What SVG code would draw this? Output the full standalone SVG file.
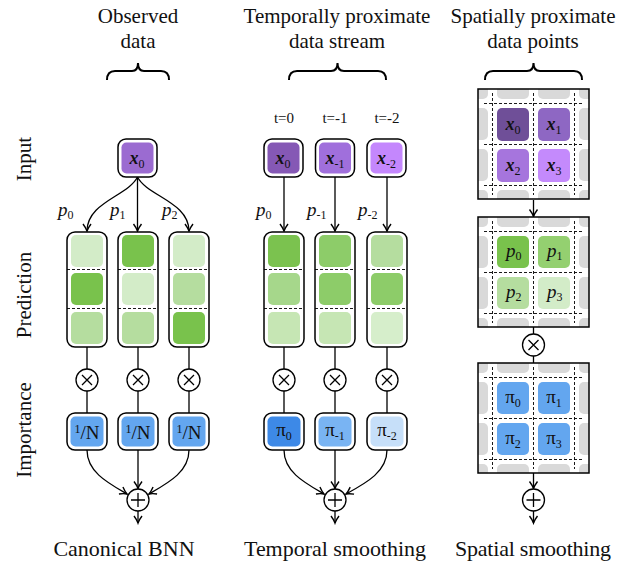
<svg xmlns="http://www.w3.org/2000/svg" width="624" height="567" viewBox="0 0 624 567">
<style>
text{font-family:"Liberation Serif","DejaVu Serif",serif}
.t{font-size:21px;fill:#111}
.tf{font-size:22px;fill:#111;text-anchor:middle}
.tl{font-size:15px;fill:#111;text-anchor:middle}
.mx{font-size:18px;font-style:italic;font-weight:bold;fill:#111;text-anchor:middle}
.mi{font-size:19px;font-style:italic;fill:#111}
.mp{font-size:19px;fill:#111;text-anchor:middle}
.sb{font-size:12px;font-style:normal;font-weight:normal}
.ob{fill:#fff;stroke:#000;stroke-width:1.5}
.ln{fill:none;stroke:#000;stroke-width:1.3}
.br{fill:none;stroke:#000;stroke-width:2}
.dl{stroke:#000;stroke-width:0.9;stroke-dasharray:3 2;fill:none}
.gc{fill:#d9d9d9}
.op{fill:#fff;stroke:#000;stroke-width:1.3}
</style>
<defs>
<marker id="ah" markerUnits="userSpaceOnUse" viewBox="-9 -6 11 12" markerWidth="11" markerHeight="12" refX="0" refY="0" orient="auto">
<path d="M-7,-4 Q-3,-1 0,0 Q-3,1 -7,4" fill="none" stroke="#000" stroke-width="1.4"/>
</marker>
<clipPath id="bc"><rect x="0" y="0" width="111" height="110"/></clipPath>
<g id="grid">
<rect x="0" y="0" width="111" height="110" fill="#fff"/>
<g clip-path="url(#bc)">
<rect class="gc" x="-22" y="-22" width="32" height="32" rx="5"/>
<rect class="gc" x="19" y="-22" width="32" height="32" rx="5"/>
<rect class="gc" x="60" y="-22" width="32" height="32" rx="5"/>
<rect class="gc" x="101" y="-22" width="32" height="32" rx="5"/>
<rect class="gc" x="-22" y="19" width="32" height="32" rx="5"/>
<rect class="gc" x="101" y="19" width="32" height="32" rx="5"/>
<rect class="gc" x="-22" y="60" width="32" height="32" rx="5"/>
<rect class="gc" x="101" y="60" width="32" height="32" rx="5"/>
<rect class="gc" x="-22" y="101" width="32" height="32" rx="5"/>
<rect class="gc" x="19" y="101" width="32" height="32" rx="5"/>
<rect class="gc" x="60" y="101" width="32" height="32" rx="5"/>
<rect class="gc" x="101" y="101" width="32" height="32" rx="5"/>
</g>
<path class="dl" d="M14.5,4 V106 M55.5,4 V106 M96.5,4 V106 M6,14.5 H106 M6,55.5 H106 M6,96.5 H106"/>
<rect x="0" y="0" width="111" height="110" fill="none" stroke="#000" stroke-width="1.5"/>
</g>
</defs>

<!-- headers -->
<g id="headers">
<text class="t" x="138" y="23" text-anchor="middle">Observed</text>
<text class="t" x="138" y="48" text-anchor="middle">data</text>
<text class="t" x="337" y="23" text-anchor="middle">Temporally proximate</text>
<text class="t" x="337" y="48" text-anchor="middle">data stream</text>
<text class="t" x="533" y="23" text-anchor="middle">Spatially proximate</text>
<text class="t" x="533" y="48" text-anchor="middle">data points</text>
<path class="br" d="M107,80 Q107,71 115,71 L132,71 Q138,71 138,63 Q138,71 144,71 L161,71 Q169,71 169,80"/>
<path class="br" d="M289,80 Q289,71 297,71 L331,71 Q337.5,71 337.5,63 Q337.5,71 344,71 L378,71 Q386,71 386,80"/>
<path class="br" d="M485,80 Q485,71 493,71 L527,71 Q533.5,71 533.5,63 Q533.5,71 540,71 L574,71 Q582,71 582,80"/>
</g>

<!-- row labels -->
<g id="rowlabels">
<text class="t" text-anchor="middle" transform="translate(31,159) rotate(-90)">Input</text>
<text class="t" text-anchor="middle" transform="translate(31,295) rotate(-90)">Prediction</text>
<text class="t" text-anchor="middle" transform="translate(31,430) rotate(-90)">Importance</text>
</g>

<!-- bottom labels -->
<g id="footers">
<text class="tf" x="124" y="556">Canonical BNN</text>
<text class="tf" x="335" y="556" textLength="182">Temporal smoothing</text>
<text class="tf" x="533" y="556" textLength="156">Spatial smoothing</text>
</g>

<!-- connectors -->
<g id="connectors">
<path class="ln" marker-end="url(#ah)" d="M137.5,177 C128,196 87,202 87,231"/>
<path class="ln" marker-end="url(#ah)" d="M137.5,177 L137.5,231"/>
<path class="ln" marker-end="url(#ah)" d="M137.5,177 C147,196 189,202 189,231"/>
<path class="ln" d="M87,347 V369 M87,391 V413 M138,347 V369 M138,391 V413 M189,347 V369 M189,391 V413"/>
<path class="ln" marker-end="url(#ah)" d="M87,450 C87,472 108,483 127,494"/>
<path class="ln" marker-end="url(#ah)" d="M138,450 L138,488.5"/>
<path class="ln" marker-end="url(#ah)" d="M189,450 C189,472 168,483 149,494"/>
<path class="ln" marker-end="url(#ah)" d="M138,511 L138,523"/>

<path class="ln" marker-end="url(#ah)" d="M284,177 L284,231"/>
<path class="ln" marker-end="url(#ah)" d="M335,177 L335,231"/>
<path class="ln" marker-end="url(#ah)" d="M387,177 L387,231"/>
<path class="ln" d="M284,347 V369 M284,391 V413 M335,347 V369 M335,391 V413 M387,347 V369 M387,391 V413"/>
<path class="ln" marker-end="url(#ah)" d="M284,450 C284,472 305,483 324,494"/>
<path class="ln" marker-end="url(#ah)" d="M335,450 L335,488.5"/>
<path class="ln" marker-end="url(#ah)" d="M387,450 C387,472 366,483 346,494"/>
<path class="ln" marker-end="url(#ah)" d="M335,511 L335,523"/>

<path class="ln" marker-end="url(#ah)" d="M533.5,200 L533.5,216.5"/>
<path class="ln" d="M533.5,327 V334 M533.5,356 V363"/>
<path class="ln" marker-end="url(#ah)" d="M533.5,473 L533.5,488.5"/>
<path class="ln" marker-end="url(#ah)" d="M533.5,511 L533.5,523"/>
</g>

<!-- operators -->
<g id="ops">
<g id="mul-c1"><circle class="op" cx="87" cy="380" r="11"/><path class="ln" d="M82,375 L92,385 M92,375 L82,385"/></g>
<g id="mul-c2"><circle class="op" cx="138" cy="380" r="11"/><path class="ln" d="M133,375 L143,385 M143,375 L133,385"/></g>
<g id="mul-c3"><circle class="op" cx="189" cy="380" r="11"/><path class="ln" d="M184,375 L194,385 M194,375 L184,385"/></g>
<g id="mul-t1"><circle class="op" cx="284" cy="380" r="11"/><path class="ln" d="M279,375 L289,385 M289,375 L279,385"/></g>
<g id="mul-t2"><circle class="op" cx="335" cy="380" r="11"/><path class="ln" d="M330,375 L340,385 M340,375 L330,385"/></g>
<g id="mul-t3"><circle class="op" cx="387" cy="380" r="11"/><path class="ln" d="M382,375 L392,385 M392,375 L382,385"/></g>
<g id="mul-s"><circle class="op" cx="533.5" cy="345" r="11"/><path class="ln" d="M528.5,340 L538.5,350 M538.5,340 L528.5,350"/></g>
<g id="add-c"><circle class="op" cx="138" cy="500" r="11"/><path class="ln" d="M131,500 H145 M138,493 V507"/></g>
<g id="add-t"><circle class="op" cx="335" cy="500" r="11"/><path class="ln" d="M328,500 H342 M335,493 V507"/></g>
<g id="add-s"><circle class="op" cx="533.5" cy="500" r="11"/><path class="ln" d="M526.5,500 H540.5 M533.5,493 V507"/></g>
</g>

<!-- canonical input -->
<g id="in-c">
<rect class="ob" x="118" y="139" width="39" height="38" rx="8"/>
<rect x="121.5" y="142.5" width="32" height="31" rx="5" fill="#9b6bd1"/>
<text class="mx" x="137" y="164">x<tspan class="sb" dy="4">0</tspan></text>
</g>
<!-- temporal inputs -->
<g id="time-labels">
<text class="tl" x="284" y="123">t=0</text>
<text class="tl" x="335" y="123">t=-1</text>
<text class="tl" x="387" y="123">t=-2</text>
</g>
<g id="in-t0">
<rect class="ob" x="264" y="139" width="39" height="38" rx="8"/>
<rect x="267.5" y="142.5" width="32" height="31" rx="5" fill="#8558b5"/>
<text class="mx" x="283" y="164">x<tspan class="sb" dy="4">0</tspan></text>
</g>
<g id="in-t1">
<rect class="ob" x="315.5" y="139" width="39" height="38" rx="8"/>
<rect x="319" y="142.5" width="32" height="31" rx="5" fill="#a06fdc"/>
<text class="mx" x="335" y="164">x<tspan class="sb" dy="4">-1</tspan></text>
</g>
<g id="in-t2">
<rect class="ob" x="367" y="139" width="39" height="38" rx="8"/>
<rect x="370.5" y="142.5" width="32" height="31" rx="5" fill="#c487fd"/>
<text class="mx" x="386.5" y="164">x<tspan class="sb" dy="4">-2</tspan></text>
</g>

<!-- p labels -->
<g id="plabels">
<text class="mi" x="58" y="216">p<tspan class="sb" dy="3">0</tspan></text>
<text class="mi" x="110" y="216">p<tspan class="sb" dy="3">1</tspan></text>
<text class="mi" x="162" y="216">p<tspan class="sb" dy="3">2</tspan></text>
<text class="mi" x="256" y="216">p<tspan class="sb" dy="3">0</tspan></text>
<text class="mi" x="307" y="216">p<tspan class="sb" dy="3">-1</tspan></text>
<text class="mi" x="358" y="216">p<tspan class="sb" dy="3">-2</tspan></text>
</g>

<!-- prediction columns -->
<g id="pred-c1">
<rect class="ob" x="67" y="232" width="40" height="115" rx="8"/>
<rect x="71" y="235" width="32" height="32" rx="5" fill="#d3ecc8"/>
<rect x="71" y="273" width="32" height="32" rx="5" fill="#79c24c"/>
<rect x="71" y="312" width="32" height="32" rx="5" fill="#b5dd9f"/>
<path class="dl" d="M67,269.5 H107 M67,308.5 H107"/>
</g>
<g id="pred-c2">
<rect class="ob" x="118" y="232" width="40" height="115" rx="8"/>
<rect x="122" y="235" width="32" height="32" rx="5" fill="#79c24c"/>
<rect x="122" y="273" width="32" height="32" rx="5" fill="#d3ecc8"/>
<rect x="122" y="312" width="32" height="32" rx="5" fill="#b5dd9f"/>
<path class="dl" d="M118,269.5 H158 M118,308.5 H158"/>
</g>
<g id="pred-c3">
<rect class="ob" x="169" y="232" width="40" height="115" rx="8"/>
<rect x="173" y="235" width="32" height="32" rx="5" fill="#d3ecc8"/>
<rect x="173" y="273" width="32" height="32" rx="5" fill="#b5dd9f"/>
<rect x="173" y="312" width="32" height="32" rx="5" fill="#79c24c"/>
<path class="dl" d="M169,269.5 H209 M169,308.5 H209"/>
</g>
<g id="pred-t1">
<rect class="ob" x="264" y="232" width="40" height="115" rx="8"/>
<rect x="268" y="235" width="32" height="32" rx="5" fill="#7bc24f"/>
<rect x="268" y="273" width="32" height="32" rx="5" fill="#a6d78b"/>
<rect x="268" y="312" width="32" height="32" rx="5" fill="#c6e6b4"/>
<path class="dl" d="M264,269.5 H304 M264,308.5 H304"/>
</g>
<g id="pred-t2">
<rect class="ob" x="315" y="232" width="40" height="115" rx="8"/>
<rect x="319" y="235" width="32" height="32" rx="5" fill="#8dcc69"/>
<rect x="319" y="273" width="32" height="32" rx="5" fill="#8dcc69"/>
<rect x="319" y="312" width="32" height="32" rx="5" fill="#c6e6b4"/>
<path class="dl" d="M315,269.5 H355 M315,308.5 H355"/>
</g>
<g id="pred-t3">
<rect class="ob" x="367" y="232" width="40" height="115" rx="8"/>
<rect x="371" y="235" width="32" height="32" rx="5" fill="#b5dd9f"/>
<rect x="371" y="273" width="32" height="32" rx="5" fill="#8dcc69"/>
<rect x="371" y="312" width="32" height="32" rx="5" fill="#d6eecb"/>
<path class="dl" d="M367,269.5 H407 M367,308.5 H407"/>
</g>

<!-- importance boxes -->
<g id="imp-c1">
<rect class="ob" x="67" y="413" width="40" height="37" rx="8"/>
<rect x="70.5" y="416.5" width="33" height="30" rx="5" fill="#63a6ef"/>
<text class="mp" x="87" y="439"><tspan font-size="12" dy="-6">1</tspan><tspan dy="6">/N</tspan></text>
</g>
<g id="imp-c2">
<rect class="ob" x="118" y="413" width="40" height="37" rx="8"/>
<rect x="121.5" y="416.5" width="33" height="30" rx="5" fill="#63a6ef"/>
<text class="mp" x="138" y="439"><tspan font-size="12" dy="-6">1</tspan><tspan dy="6">/N</tspan></text>
</g>
<g id="imp-c3">
<rect class="ob" x="169" y="413" width="40" height="37" rx="8"/>
<rect x="172.5" y="416.5" width="33" height="30" rx="5" fill="#63a6ef"/>
<text class="mp" x="189" y="439"><tspan font-size="12" dy="-6">1</tspan><tspan dy="6">/N</tspan></text>
</g>
<g id="imp-t1">
<rect class="ob" x="264" y="413" width="40" height="37" rx="8"/>
<rect x="267.5" y="416.5" width="33" height="30" rx="5" fill="#3d89e7"/>
<text class="mp" x="284" y="436">π<tspan class="sb" dy="4">0</tspan></text>
</g>
<g id="imp-t2">
<rect class="ob" x="315" y="413" width="40" height="37" rx="8"/>
<rect x="318.5" y="416.5" width="33" height="30" rx="5" fill="#79b4f3"/>
<text class="mp" x="335" y="436">π<tspan class="sb" dy="4">-1</tspan></text>
</g>
<g id="imp-t3">
<rect class="ob" x="367" y="413" width="40" height="37" rx="8"/>
<rect x="370.5" y="416.5" width="33" height="30" rx="5" fill="#c6dff9"/>
<text class="mp" x="387" y="436">π<tspan class="sb" dy="4">-2</tspan></text>
</g>

<!-- spatial -->
<g id="sp-input" transform="translate(478,89)">
<use href="#grid"/>
<rect x="19" y="19" width="32" height="33" rx="5" fill="#6f4f98"/>
<rect x="60" y="19" width="32" height="33" rx="5" fill="#8e67c3"/>
<rect x="19" y="60" width="32" height="33" rx="5" fill="#a675dd"/>
<rect x="60" y="60" width="32" height="33" rx="5" fill="#c48afc"/>
<text class="mx" x="35" y="41">x<tspan class="sb" dy="4">0</tspan></text>
<text class="mx" x="76" y="41">x<tspan class="sb" dy="4">1</tspan></text>
<text class="mx" x="35" y="82">x<tspan class="sb" dy="4">2</tspan></text>
<text class="mx" x="76" y="82">x<tspan class="sb" dy="4">3</tspan></text>
</g>
<g id="sp-pred" transform="translate(478,217)">
<use href="#grid"/>
<rect x="19" y="19" width="32" height="32" rx="5" fill="#79c24c"/>
<rect x="60" y="19" width="32" height="32" rx="5" fill="#94d070"/>
<rect x="19" y="60" width="32" height="32" rx="5" fill="#b5dd9f"/>
<rect x="60" y="60" width="32" height="32" rx="5" fill="#d3ecc8"/>
<text class="mi" x="28" y="40">p<tspan class="sb" dy="3">0</tspan></text>
<text class="mi" x="69" y="40">p<tspan class="sb" dy="3">1</tspan></text>
<text class="mi" x="28" y="81">p<tspan class="sb" dy="3">2</tspan></text>
<text class="mi" x="69" y="81">p<tspan class="sb" dy="3">3</tspan></text>
</g>
<g id="sp-imp" transform="translate(478,363)">
<use href="#grid"/>
<rect x="19" y="19" width="32" height="32" rx="5" fill="#63a6ef"/>
<rect x="60" y="19" width="32" height="32" rx="5" fill="#63a6ef"/>
<rect x="19" y="60" width="32" height="32" rx="5" fill="#63a6ef"/>
<rect x="60" y="60" width="32" height="32" rx="5" fill="#63a6ef"/>
<text class="mp" x="35" y="40">π<tspan class="sb" dy="4">0</tspan></text>
<text class="mp" x="76" y="40">π<tspan class="sb" dy="4">1</tspan></text>
<text class="mp" x="35" y="81">π<tspan class="sb" dy="4">2</tspan></text>
<text class="mp" x="76" y="81">π<tspan class="sb" dy="4">3</tspan></text>
</g>
</svg>
